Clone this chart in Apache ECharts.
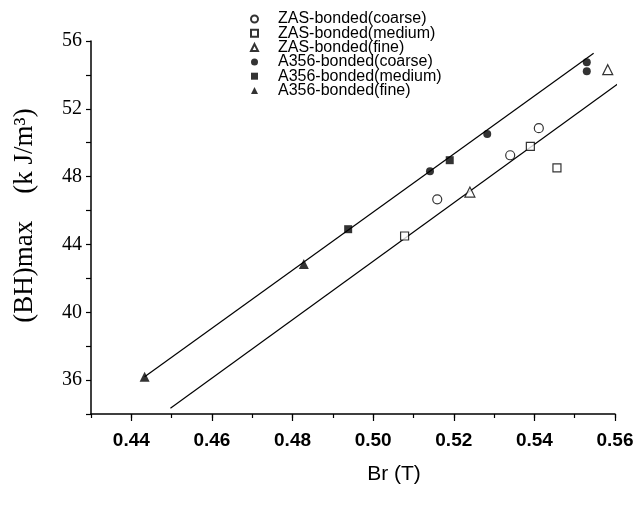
<!DOCTYPE html>
<html>
<head>
<meta charset="utf-8">
<script src="https://cdn.jsdelivr.net/npm/echarts@6/dist/echarts.min.js"></script>
<style>
  html, body { margin: 0; padding: 0; background: #fff; }
  #chart { width: 642px; height: 512px; }
</style>
</head>
<body>
<div id="chart"></div>
<script>
// 数据点 [Br (T), (BH)max (kJ/m3)]
var zasCoarse = [[0.5159, 46.66], [0.5340, 49.26], [0.5411, 50.86]];
var zasMedium = [[0.5078, 44.50], [0.5390, 49.78], [0.5456, 48.52]];
var zasFine = [[0.5240, 47.09], [0.5582, 54.31]];
var a356Coarse = [[0.5141, 48.32], [0.5283, 50.51], [0.5530, 54.74], [0.5530, 54.21]];
var a356Medium = [[0.4938, 44.90], [0.5190, 48.97]];
var a356Fine = [[0.4433, 36.20], [0.4828, 42.84]];
// 拟合直线
var fitA356 = [[0.4433, 36.20], [0.5547, 55.28]];
var fitZAS = [[0.4497, 34.34], [0.5628, 53.83]];
// 刻度
var xLabelTicks = [0.44, 0.46, 0.48, 0.50, 0.52, 0.54, 0.56];
var yLabelTicks = [36, 40, 44, 48, 52, 56];

var chart = echarts.init(document.getElementById('chart'), null, { renderer: 'canvas' });

var hollow = { color: '#fff', borderColor: '#000', borderWidth: 1.2 };
var filled = { color: '#000', borderColor: '#000', borderWidth: 0 };

function scatter(name, data, symbol, size, style) {
    return {
        name: name, type: 'scatter', data: data,
        symbol: symbol, symbolSize: size,
        itemStyle: style, z: 3
    };
}
function fitLine(data) {
    return {
        type: 'line', data: data, symbol: 'none', clip: false,
        lineStyle: { color: '#000', width: 1.2 }, silent: true, z: 2
    };
}

chart.setOption({
    backgroundColor: '#fff',
    animation: false,
    legend: {
        orient: 'vertical',
        left: 245, top: 6,
        itemWidth: 7, itemHeight: 7, itemGap: -1.7,
        textStyle: {
            fontFamily: 'Liberation Sans', fontSize: 16, color: '#000',
            lineHeight: 13, padding: [0, 0, 0, 15]
        },
        data: ['ZAS-bonded(coarse)', 'ZAS-bonded(medium)', 'ZAS-bonded(fine)',
            'A356-bonded(coarse)', 'A356-bonded(medium)', 'A356-bonded(fine)']
    },
    grid: { left: 91, right: 27, top: 41, bottom: 98, outerBoundsMode: 'none' },
    xAxis: [
        {
            type: 'value', min: 0.43, max: 0.56, interval: 0.01,
            name: 'Br (T)', nameLocation: 'middle', nameGap: 50,
            nameTextStyle: { fontFamily: 'Liberation Sans', fontSize: 21, color: '#000', padding: [0, 0, 0, 82] },
            axisLine: { lineStyle: { color: '#000', width: 1.5 } },
            axisTick: { length: 4, lineStyle: { color: '#000', width: 1.2 } },
            axisLabel: {
                customValues: xLabelTicks, margin: 17,
                fontFamily: 'Liberation Sans', fontSize: 19, fontWeight: 'bold', color: '#000',
                formatter: function (v) { return v.toFixed(2); }
            },
            splitLine: { show: false }
        },
        {
            type: 'value', min: 0.43, max: 0.56, position: 'bottom',
            axisLine: { show: false },
            axisTick: { customValues: xLabelTicks, length: 7, lineStyle: { color: '#000', width: 1.2 } },
            axisLabel: { show: false },
            splitLine: { show: false }
        }
    ],
    yAxis: {
        type: 'value', min: 34, max: 56, interval: 2,
        name: '(BH)max    (k J/m³)', nameLocation: 'middle', nameGap: 53, nameRotate: 90,
        nameTextStyle: { fontFamily: 'Liberation Serif', fontSize: 27, color: '#000', padding: [0, 0, 0, 24] },
        axisLine: { lineStyle: { color: '#000', width: 1.5 } },
        axisTick: { length: 5, lineStyle: { color: '#000', width: 1.2 } },
        axisLabel: {
            customValues: yLabelTicks, margin: 9,
            fontFamily: 'Liberation Serif', fontSize: 20, color: '#000'
        },
        splitLine: { show: false }
    },
    series: [
        scatter('ZAS-bonded(coarse)', zasCoarse, 'circle', 9, hollow),
        scatter('ZAS-bonded(medium)', zasMedium, 'rect', 8, hollow),
        scatter('ZAS-bonded(fine)', zasFine, 'triangle', 10, hollow),
        scatter('A356-bonded(coarse)', a356Coarse, 'circle', 8, filled),
        scatter('A356-bonded(medium)', a356Medium, 'rect', 8, filled),
        scatter('A356-bonded(fine)', a356Fine, 'triangle', 10, filled),
        fitLine(fitA356),
        fitLine(fitZAS)
    ]
});
</script>
</body>
</html>
